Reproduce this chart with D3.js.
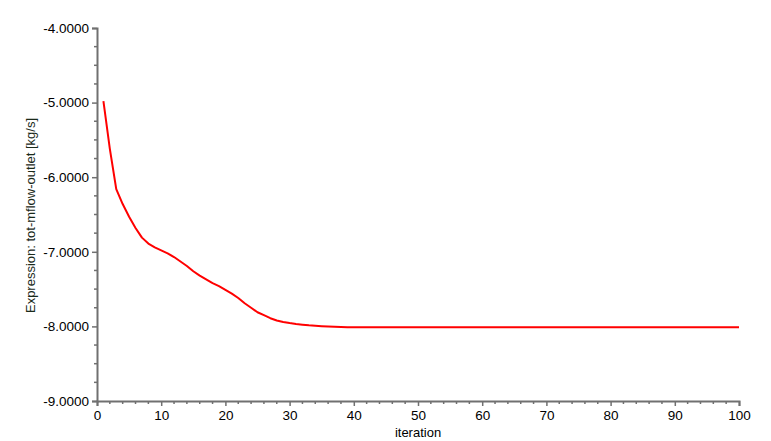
<!DOCTYPE html>
<html>
<head>
	<meta charset="utf-8">
	<title>tot-mflow-outlet</title>
	<script src="https://cdn.jsdelivr.net/npm/d3@7"></script>
	<style>
		body { margin: 0; background: #fff; }
		text { font-family: "Liberation Sans", Arial, sans-serif; }
	</style>
</head>
<body>
	<div id="chart"></div>
	<script>
		// Data
		var iterations = [1, 2, 3, 4, 5, 6, 7, 8, 9, 10,
			11, 12, 13, 14, 15, 16, 17, 18, 19, 20,
			21, 22, 23, 24, 25, 26, 27, 28, 29, 30,
			31, 32, 33, 34, 35, 36, 37, 38, 39, 40,
			45, 50, 60, 70, 80, 90, 100];
		var massFlow = [-4.98, -5.62, -6.16, -6.36, -6.53, -6.68, -6.81, -6.89, -6.94, -6.98,
			-7.02, -7.07, -7.13, -7.19, -7.26, -7.32, -7.37, -7.42, -7.46, -7.51,
			-7.56, -7.62, -7.69, -7.75, -7.81, -7.85, -7.89, -7.92, -7.94, -7.955,
			-7.967, -7.977, -7.986, -7.992, -7.997, -8.001, -8.005, -8.008, -8.01, -8.012,
			-8.012, -8.012, -8.012, -8.012, -8.012, -8.012, -8.012];
		var xTicks = [0, 10, 20, 30, 40, 50, 60, 70, 80, 90, 100];
		var yTicks = [-9, -8, -7, -6, -5, -4];

		var width = 771, height = 441;
		var margin = { top: 28, right: 32, bottom: 40, left: 97 };

		var x = d3.scaleLinear()
			.domain([0, 100])
			.range([margin.left, width - margin.right]);
		var y = d3.scaleLinear()
			.domain([-9, -4])
			.range([height - margin.bottom, margin.top]);

		var svg = d3.select("#chart")
			.append("svg")
			.attr("width", width)
			.attr("height", height);

		var axisColor = "#707070";

		// minor ticks
		var xMinor = d3.range(0, 101, 2).filter(d => d % 10 !== 0);
		var yMinor = d3.range(-9, -3.99, 0.25).filter(d => Math.abs(d - Math.round(d)) > 1e-6);

		var xAxis = svg.append("g")
			.attr("transform", "translate(0," + y(-9) + ")")
			.call(d3.axisBottom(x).tickValues(xTicks).tickSize(5).tickPadding(4)
				.tickFormat(d => String(d)));
		var yAxis = svg.append("g")
			.attr("transform", "translate(" + x(0) + ",0)")
			.call(d3.axisLeft(y).tickValues(yTicks).tickSize(5).tickPadding(2)
				.tickFormat(d => d.toFixed(4)));

		[xAxis, yAxis].forEach(function (g) {
			g.select(".domain").attr("stroke", axisColor).attr("stroke-width", 2);
			g.selectAll(".tick line").attr("stroke", axisColor).attr("stroke-width", 1.5);
			g.selectAll(".tick text").attr("fill", "#000").style("font-size", "13.5px")
				.style("font-family", "'Liberation Sans', Arial, sans-serif");
		});
		yAxis.selectAll(".tick text").attr("dx", "-1");

		svg.append("g").selectAll("line")
			.data(xMinor)
			.join("line")
			.attr("x1", d => x(d)).attr("x2", d => x(d))
			.attr("y1", y(-9)).attr("y2", y(-9) + 3)
			.attr("stroke", axisColor).attr("stroke-width", 1.5);
		svg.append("g").selectAll("line")
			.data(yMinor)
			.join("line")
			.attr("x1", x(0) - 3).attr("x2", x(0))
			.attr("y1", d => y(d)).attr("y2", d => y(d))
			.attr("stroke", axisColor).attr("stroke-width", 1.5);

		// axis titles
		svg.append("text")
			.attr("x", (x(0) + x(100)) / 2)
			.attr("y", height - 4)
			.attr("text-anchor", "middle")
			.style("font-size", "13px")
			.attr("fill", "#000")
			.text("iteration");
		svg.append("text")
			.attr("transform", "translate(35," + (y(-6.5) + 1) + ") rotate(-90)")
			.attr("text-anchor", "middle")
			.style("font-size", "13px")
			.attr("fill", "#1a2a1a")
			.text("Expression: tot-mflow-outlet [kg/s]");

		// line
		var pts = iterations.map((d, i) => ({ it: d, v: massFlow[i] }));
		svg.append("path")
			.datum(pts)
			.attr("fill", "none")
			.attr("stroke", "#ff0000")
			.attr("stroke-width", 2)
			.attr("stroke-linejoin", "round")
			.attr("d", d3.line().x(d => x(d.it)).y(d => y(d.v)));
	</script>
</body>
</html>
